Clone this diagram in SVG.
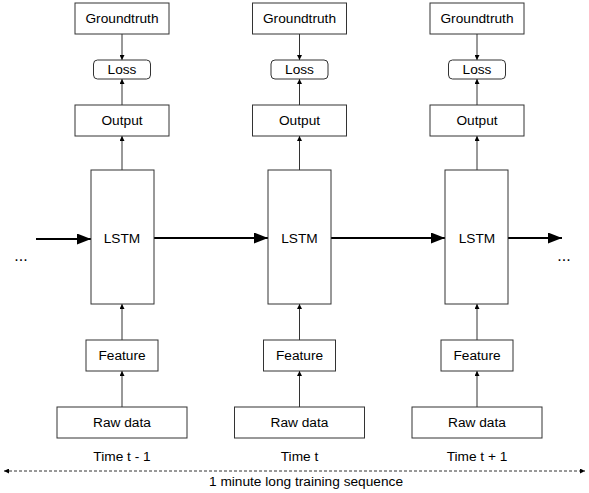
<svg xmlns="http://www.w3.org/2000/svg" width="589" height="493" viewBox="0 0 589 493">
<style>
.box{fill:#fff;stroke:#333;stroke-width:1}
.t{font-family:"Liberation Sans",Arial,sans-serif;font-size:13.7px;fill:#000;text-anchor:middle;dominant-baseline:central}
.dots{font-size:16px}
.v{stroke:#333;stroke-width:1;fill:none;marker-end:url(#sm)}
.h{stroke:#000;stroke-width:2;fill:none;marker-end:url(#big)}
.d{stroke:#333;stroke-width:1;fill:none;stroke-dasharray:3 2;marker-end:url(#sm);marker-start:url(#sms)}
</style>
<defs>
<marker id="sm" viewBox="0 0 6 6" refX="6" refY="3" markerWidth="5" markerHeight="5" markerUnits="userSpaceOnUse" orient="auto"><path d="M0,0 L6,3 L0,6 Z" fill="#000"/></marker>
<marker id="sms" viewBox="0 0 6 6" refX="0" refY="3" markerWidth="5" markerHeight="5" markerUnits="userSpaceOnUse" orient="auto"><path d="M6,0 L0,3 L6,6 Z" fill="#000"/></marker>
<marker id="big" viewBox="0 0 14 11" refX="14" refY="5.5" markerWidth="14" markerHeight="11" markerUnits="userSpaceOnUse" orient="auto"><path d="M0,0 L14,5.5 L0,11 Z" fill="#000"/></marker>
</defs>
<g id="connectors">
<path class="v" d="M122,34 V60"/><path class="v" d="M122,105 V79"/><path class="v" d="M122,170 V136"/><path class="v" d="M122,340 V304"/><path class="v" d="M122,407 V371"/>
<path class="v" d="M299.5,34 V60"/><path class="v" d="M299.5,105 V79"/><path class="v" d="M299.5,170 V136"/><path class="v" d="M299.5,340 V304"/><path class="v" d="M299.5,407 V371"/>
<path class="v" d="M477,34 V60"/><path class="v" d="M477,105 V79"/><path class="v" d="M477,170 V136"/><path class="v" d="M477,340 V304"/><path class="v" d="M477,407 V371"/>
<path class="h" d="M36,239 H91"/>
<path class="h" d="M154,238 H268"/>
<path class="h" d="M331,238 H445"/>
<path class="h" d="M508,238 H562"/>
<path class="d" d="M4,471 H585"/>
</g>
<g id="col1">
<g id="gt1"><rect class="box" x="75" y="3" width="94" height="31"/><text class="t" x="122" y="18.5">Groundtruth</text></g>
<g id="loss1"><rect class="box" x="93.5" y="60" width="57" height="19" rx="4"/><text class="t" x="122" y="69.5">Loss</text></g>
<g id="out1"><rect class="box" x="75" y="105" width="94" height="31"/><text class="t" x="122" y="120.5">Output</text></g>
<g id="lstm1"><rect class="box" x="91" y="170" width="63" height="134"/><text class="t" x="122" y="238.5">LSTM</text></g>
<g id="feat1"><rect class="box" x="86" y="340" width="72" height="31"/><text class="t" x="122" y="355.5">Feature</text></g>
<g id="raw1"><rect class="box" x="57" y="407" width="130" height="31"/><text class="t" x="122" y="422.5">Raw data</text></g>
<text class="t" x="122" y="456.5">Time t - 1</text>
</g>
<g id="col2">
<g id="gt2"><rect class="box" x="252.5" y="3" width="94" height="31"/><text class="t" x="299.5" y="18.5">Groundtruth</text></g>
<g id="loss2"><rect class="box" x="271" y="60" width="57" height="19" rx="4"/><text class="t" x="299.5" y="69.5">Loss</text></g>
<g id="out2"><rect class="box" x="252.5" y="105" width="94" height="31"/><text class="t" x="299.5" y="120.5">Output</text></g>
<g id="lstm2"><rect class="box" x="268" y="170" width="63" height="134"/><text class="t" x="299.5" y="238.5">LSTM</text></g>
<g id="feat2"><rect class="box" x="263.5" y="340" width="72" height="31"/><text class="t" x="299.5" y="355.5">Feature</text></g>
<g id="raw2"><rect class="box" x="234.5" y="407" width="130" height="31"/><text class="t" x="299.5" y="422.5">Raw data</text></g>
<text class="t" x="299.5" y="456.5">Time t</text>
</g>
<g id="col3">
<g id="gt3"><rect class="box" x="430" y="3" width="94" height="31"/><text class="t" x="477" y="18.5">Groundtruth</text></g>
<g id="loss3"><rect class="box" x="448.5" y="60" width="57" height="19" rx="4"/><text class="t" x="477" y="69.5">Loss</text></g>
<g id="out3"><rect class="box" x="430" y="105" width="94" height="31"/><text class="t" x="477" y="120.5">Output</text></g>
<g id="lstm3"><rect class="box" x="445" y="170" width="63" height="134"/><text class="t" x="477" y="238.5">LSTM</text></g>
<g id="feat3"><rect class="box" x="441" y="340" width="72" height="31"/><text class="t" x="477" y="355.5">Feature</text></g>
<g id="raw3"><rect class="box" x="412" y="407" width="130" height="31"/><text class="t" x="477" y="422.5">Raw data</text></g>
<text class="t" x="477" y="456.5">Time t + 1</text>
</g>
<text class="t dots" x="21" y="255.4">...</text>
<text class="t dots" x="564" y="255">...</text>
<text class="t" x="306" y="481">1 minute long training sequence</text>
</svg>
